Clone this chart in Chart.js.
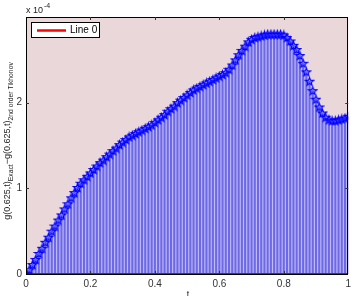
<!DOCTYPE html>
<html><head><meta charset="utf-8">
<script src="https://cdn.jsdelivr.net/npm/chart.js@4/dist/chart.umd.min.js"></script>
<style>html,body{margin:0;padding:0;background:#fff}#wrap{width:355px;height:296px;position:relative}</style>
</head><body><div id="wrap"><canvas id="c" width="355" height="296"></canvas></div>
<script>
// t values (0 .. 1, step 0.01)
const tValues = [0,0.01,0.02,0.03,0.04,0.05,0.06,0.07,0.08,0.09,0.1,0.11,0.12,0.13,0.14,0.15,0.16,0.17,0.18,0.19,0.2,0.21,0.22,0.23,0.24,0.25,0.26,0.27,0.28,0.29,0.3,0.31,0.32,0.33,0.34,0.35,0.36,0.37,0.38,0.39,0.4,0.41,0.42,0.43,0.44,0.45,0.46,0.47,0.48,0.49,0.5,0.51,0.52,0.53,0.54,0.55,0.56,0.57,0.58,0.59,0.6,0.61,0.62,0.63,0.64,0.65,0.66,0.67,0.68,0.69,0.7,0.71,0.72,0.73,0.74,0.75,0.76,0.77,0.78,0.79,0.8,0.81,0.82,0.83,0.84,0.85,0.86,0.87,0.88,0.89,0.9,0.91,0.92,0.93,0.94,0.95,0.96,0.97,0.98,0.99,1];
// error values in units of 1e-4
const errValues = [0.00,0.05,0.11,0.17,0.24,0.30,0.37,0.43,0.50,0.56,0.63,0.69,0.76,0.82,0.89,0.95,1.01,1.06,1.10,1.14,1.18,1.22,1.26,1.30,1.33,1.37,1.40,1.44,1.47,1.51,1.54,1.57,1.60,1.62,1.64,1.66,1.68,1.70,1.72,1.74,1.77,1.80,1.83,1.86,1.90,1.93,1.96,2.00,2.03,2.06,2.09,2.12,2.15,2.17,2.19,2.21,2.23,2.25,2.27,2.29,2.31,2.33,2.35,2.39,2.44,2.50,2.56,2.61,2.66,2.71,2.74,2.76,2.77,2.78,2.79,2.80,2.80,2.80,2.80,2.80,2.79,2.76,2.72,2.67,2.62,2.55,2.46,2.36,2.25,2.14,2.04,1.95,1.88,1.83,1.80,1.79,1.79,1.80,1.81,1.82,1.84];
// reference line
const line0X = [0, 1];
const line0Y = [0, 0];
const xTicks = [0, 0.2, 0.4, 0.6, 0.8, 1];
const yTicks = [0, 1, 2];
const yMax = 3;
const legendLabel = 'Line 0';
const exponentLabel = '-4';

const pts = tValues.map((t,i)=>({x:t,y:errValues[i]}));

// pentagram marker
function makeStar(){
  const s=document.createElement('canvas'); s.width=11; s.height=11;
  const g=s.getContext('2d'); g.strokeStyle='#0000ff'; g.lineWidth=1.1;
  g.beginPath();
  for(let k=0;k<10;k++){
    const r = k%2===0 ? 4.3 : 1.8;
    const a = -Math.PI/2 + k*Math.PI/5;
    const px=5.5+r*Math.cos(a), py=5.9+r*Math.sin(a);
    if(k===0) g.moveTo(px,py); else g.lineTo(px,py);
  }
  g.closePath(); g.fillStyle='rgba(90,90,255,0.35)'; g.fill(); g.stroke();
  return s;
}
const starImg = makeStar();

const deco = {
  id:'deco',
  beforeDraw(chart){
    const {ctx, chartArea:a} = chart;
    ctx.save(); ctx.fillStyle='#e9d7d9';
    ctx.fillRect(a.left,a.top,a.right-a.left,a.bottom-a.top); ctx.restore();
  },
  afterDraw(chart){
    const {ctx, chartArea:a, scales} = chart;
    ctx.save();
    ctx.strokeStyle='#000'; ctx.lineWidth=1;
    ctx.strokeRect(Math.round(a.left)+0.5,Math.round(a.top)+0.5,Math.round(a.right-a.left)-1,Math.round(a.bottom-a.top));
    ctx.strokeStyle='#333';
    ctx.beginPath();
    xTicks.slice(1,-1).forEach(v=>{const x=Math.round(scales.x.getPixelForValue(v))+0.5;
      ctx.moveTo(x,a.top); ctx.lineTo(x,a.top+3); ctx.moveTo(x,a.bottom); ctx.lineTo(x,a.bottom-3);});
    yTicks.slice(1).forEach(v=>{const y=Math.round(scales.y.getPixelForValue(v))+0.5;
      ctx.moveTo(a.left,y); ctx.lineTo(a.left+3,y); ctx.moveTo(a.right,y); ctx.lineTo(a.right-3,y);});
    ctx.stroke();
    // legend
    ctx.fillStyle='#fff'; ctx.fillRect(31,22,69,16);
    ctx.strokeStyle='#000'; ctx.strokeRect(31.5,22.5,68,15);
    ctx.strokeStyle='#ff0000'; ctx.lineWidth=2.5;
    ctx.beginPath(); ctx.moveTo(37,30.5); ctx.lineTo(66,30.5); ctx.stroke();
    ctx.fillStyle='#000'; ctx.font='10px "Liberation Sans", Arial'; ctx.textBaseline='middle'; ctx.textAlign='left';
    ctx.fillText(legendLabel,70,30.5);
    // exponent
    ctx.fillStyle='#222'; ctx.textBaseline='alphabetic';
    ctx.font='9px "Liberation Sans", Arial'; ctx.fillText('x 10',26,13);
    const w=ctx.measureText('x 10').width;
    ctx.font='7px "Liberation Sans", Arial'; ctx.fillText(exponentLabel,26+w+1,8);
    // x label
    ctx.font='9px "Liberation Sans", Arial'; ctx.textAlign='center'; ctx.fillText('t',188,297);
    // y label with subscripts
    const parts=[['g(0.625,t)',9,0],['Exact',6.8,3],['\u2212g(0.625,t)',9,0],['2nd order Tikhonov',6.8,3]];
    let total=0;
    parts.forEach(p=>{ctx.font=p[1]+'px "Liberation Sans", Arial'; total+=ctx.measureText(p[0]).width;});
    ctx.translate(10,141+total/2); ctx.rotate(-Math.PI/2);
    ctx.textAlign='left'; let xx=0;
    parts.forEach(p=>{ctx.font=p[1]+'px "Liberation Sans", Arial'; ctx.fillText(p[0],xx,p[2]); xx+=ctx.measureText(p[0]).width;});
    ctx.restore();
  }
};

new Chart(document.getElementById('c'),{
  type:'bar',
  data:{datasets:[
    {type:'line', label:legendLabel, data:line0X.map((x,i)=>({x:x,y:line0Y[i]})), borderColor:'#d00010', borderWidth:2, pointRadius:0, order:1},
    {type:'bar', label:'stems', data:pts, backgroundColor:'rgba(100,96,228,0.9)', barThickness:1.4, grouped:false, order:2},
    {type:'bar', label:'stemglow', data:pts, backgroundColor:'rgba(190,185,243,0.95)', barThickness:3.2, grouped:false, order:3},
    {type:'line', label:'markers', data:pts, showLine:false, pointStyle:starImg, pointRadius:5, order:0}
  ]},
  plugins:[deco],
  options:{
    responsive:false, animation:false, devicePixelRatio:1,
    layout:{padding:{top:17,right:5,left:0,bottom:0}},
    plugins:{legend:{display:false},tooltip:{enabled:false}},
    scales:{
      x:{type:'linear', min:0, max:1, offset:false, grid:{display:false, drawTicks:false}, border:{display:false},
        afterBuildTicks(s){s.ticks=xTicks.map(v=>({value:v}));},
        ticks:{padding:4, color:'#333', font:{family:'"Liberation Sans", Arial', size:10}, maxRotation:0, callback:v=>String(v)},
        afterFit(s){s.height=22;}},
      y:{min:0, max:yMax, grid:{display:false, drawTicks:false}, border:{display:false},
        afterBuildTicks(s){s.ticks=yTicks.map(v=>({value:v}));},
        ticks:{padding:4, color:'#333', font:{family:'"Liberation Sans", Arial', size:10}, callback:v=>String(v)},
        afterFit(s){s.width=26;}}
    }
  }
});
</script></body></html>
